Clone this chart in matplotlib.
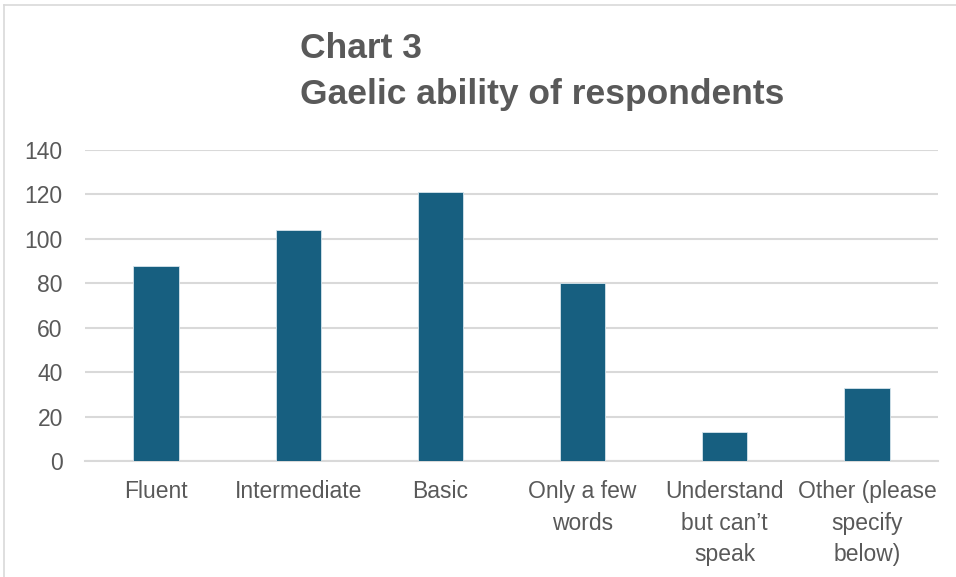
import matplotlib
matplotlib.use("Agg")
import matplotlib.pyplot as plt
from matplotlib.lines import Line2D

# data
categories = ["Fluent", "Intermediate", "Basic", "Only a few\nwords",
              "Understand\nbut can\u2019t\nspeak", "Other (please\nspecify\nbelow)"]
counts = [88, 104, 121, 80, 13, 33]
y_ticks = [0, 20, 40, 60, 80, 100, 120, 140]

plt.rcParams['font.family'] = ['Liberation Sans', 'DejaVu Sans']

fig = plt.figure(figsize=(9.56, 5.77), dpi=100)
ax = fig.add_axes([85 / 956, 1 - 461 / 577, (938 - 85) / 956, (461 - 150) / 577])

x = range(len(categories))
ax.bar(x, counts, width=0.32, color="#175f80", edgecolor="#d6e4ec", linewidth=0.6, zorder=3)

ax.set_xlim(-0.5, len(categories) - 0.5)
ax.set_ylim(0, 140)
ax.set_yticks(y_ticks)
ax.set_yticklabels([str(t) for t in y_ticks], fontsize=16.5, color="#595959")
ax.set_xticks(list(x))
ax.set_xticklabels(categories, fontsize=16.5, color="#595959", linespacing=1.45, va="top")
ax.tick_params(axis="both", length=0)
ax.tick_params(axis="x", pad=14)
ax.tick_params(axis="y", pad=16)

ax.grid(axis="y", color="#d9d9d9", linewidth=1.5, zorder=0)
for side in ["top", "right", "left"]:
    ax.spines[side].set_visible(False)
ax.spines["bottom"].set_color("#d9d9d9")
ax.spines["bottom"].set_linewidth(1.5)

fig.text(300 / 956, 1 - 48 / 577, "Chart 3", fontsize=25.5, fontweight="bold",
         color="#595959", va="center", ha="left")
fig.text(300 / 956, 1 - 95 / 577, "Gaelic ability of respondents", fontsize=25.5,
         fontweight="bold", color="#595959", va="center", ha="left")

# outer chart frame (top and left edges visible)
fig.add_artist(Line2D([4 / 956, 1], [1 - 5 / 577, 1 - 5 / 577], color="#d9d9d9", linewidth=1.2,
                      transform=fig.transFigure))
fig.add_artist(Line2D([4 / 956, 4 / 956], [0, 1 - 5 / 577], color="#d9d9d9", linewidth=1.2,
                      transform=fig.transFigure))

fig.savefig("out.png", dpi=100)
